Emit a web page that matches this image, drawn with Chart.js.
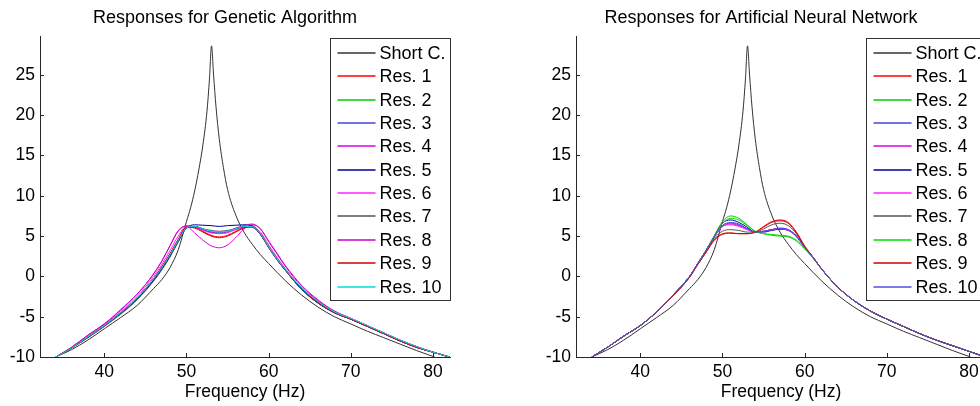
<!DOCTYPE html>
<html>
<head>
<meta charset="utf-8">
<script src="https://cdn.jsdelivr.net/npm/chart.js@4.4.1/dist/chart.umd.min.js"></script>
<style>
    html, body { margin: 0; padding: 0; background: #fff; overflow: hidden; }
    #wrap { position: relative; width: 980px; height: 406px; overflow: hidden; background: #fff; }
    #gaChart { position: absolute; left: 0; top: 0; }
    #annChart { position: absolute; left: 536px; top: 0; }
</style>
</head>
<body>
<div id="wrap">
    <canvas id="gaChart" width="490" height="406"></canvas>
    <canvas id="annChart" width="490" height="406"></canvas>
</div>
<script>
// frequency grids (Hz)
const resFreq = [34.1, 36, 38, 40, 42, 44, 46, 47, 48, 49, 50, 51, 52, 53, 54, 55, 56, 57, 58, 59, 60, 61, 62, 64, 66, 68, 70, 72, 74, 76, 78, 80, 82];
const scFreq = [34.1, 36, 38, 40, 42, 44, 46, 47, 48, 49, 50, 50.5, 51, 51.5, 52, 52.5, 52.8, 53.05, 53.3, 53.6, 54, 54.5, 55, 56, 57, 58, 59, 60, 62, 64, 66, 68, 70, 72, 74, 76, 78, 80.2];

const xTicks = [40, 50, 60, 70, 80];
const yTicks = [-10, -5, 0, 5, 10, 15, 20, 25];

// short circuit response (same in both plots)
const shortCircuit = [-10, -9.1, -7.9, -6.5, -5.1, -3.6, -1.5, -0.4, 1.1, 3.3, 6.8, 8.5, 10.6, 13.2, 16.3, 20.5, 24.5, 28.6, 25.0, 21.0, 17.0, 13.5, 10.8, 7.6, 5.5, 4.0, 2.7, 1.6, -0.5, -2.3, -3.8, -5.0, -5.9, -6.8, -7.6, -8.4, -9.2, -10];

const resLabels = ['Res. 1', 'Res. 2', 'Res. 3', 'Res. 4', 'Res. 5', 'Res. 6', 'Res. 7', 'Res. 8', 'Res. 9', 'Res. 10'];

// genetic algorithm responses
const ga1 = [-10, -8.9, -7.5, -6.1, -4.5, -2.7, -0.3, 1.2, 2.8, 4.6, 6.1, 6.1, 5.6, 5.1, 4.9, 5.1, 5.6, 6.1, 6.2, 5.3, 3.7, 2.2, 0.9, -1.5, -3.2, -4.5, -5.3, -6.2, -7.1, -8.0, -8.8, -9.4, -10.0];
const ga2 = [-10, -8.9, -7.5, -6.1, -4.5, -2.7, -0.3, 1.1, 2.7, 4.5, 6.0, 6.2, 5.9, 5.6, 5.5, 5.6, 5.9, 6.2, 6.2, 5.3, 3.7, 2.2, 0.9, -1.5, -3.2, -4.5, -5.3, -6.2, -7.1, -8.0, -8.8, -9.4, -10.0];
const ga3 = [-10, -8.9, -7.5, -6.1, -4.6, -2.8, -0.4, 1.0, 2.6, 4.4, 6.0, 6.2, 5.9, 5.5, 5.4, 5.5, 5.9, 6.2, 6.1, 5.2, 3.6, 2.1, 0.8, -1.6, -3.3, -4.5, -5.3, -6.2, -7.1, -8.0, -8.8, -9.4, -10.0];
const ga4 = [-10, -8.8, -7.3, -5.9, -4.1, -2.2, 0.3, 1.9, 3.8, 5.7, 6.2, 5.4, 4.5, 3.8, 3.55, 3.9, 4.8, 5.9, 6.4, 5.9, 4.3, 2.8, 1.3, -1.2, -3.0, -4.3, -5.2, -6.1, -7.0, -7.9, -8.7, -9.4, -10.0];
const ga5 = [-10, -8.9, -7.6, -6.2, -4.6, -2.8, -0.5, 0.9, 2.5, 4.3, 6.0, 6.4, 6.35, 6.3, 6.2, 6.3, 6.35, 6.4, 6.3, 5.2, 3.6, 2.1, 0.8, -1.6, -3.3, -4.5, -5.3, -6.2, -7.1, -8.0, -8.8, -9.4, -10.0];
const ga6 = [-10, -8.9, -7.5, -6.0, -4.4, -2.5, 0.0, 1.5, 3.2, 5.0, 6.2, 6.1, 5.7, 5.4, 5.3, 5.4, 5.8, 6.1, 6.2, 5.5, 3.9, 2.4, 1.0, -1.4, -3.1, -4.4, -5.3, -6.2, -7.1, -8.0, -8.8, -9.4, -10.0];
const ga7 = [-10, -8.9, -7.6, -6.2, -4.7, -2.9, -0.6, 0.8, 2.4, 4.3, 6.0, 6.2, 5.9, 5.7, 5.6, 5.7, 5.9, 6.1, 6.1, 5.2, 3.6, 2.1, 0.8, -1.6, -3.3, -4.5, -5.3, -6.2, -7.1, -8.0, -8.8, -9.4, -10.0];
const ga8 = [-10, -8.8, -7.3, -5.9, -4.2, -2.2, 0.3, 1.9, 3.8, 5.6, 6.3, 6.1, 5.8, 5.5, 5.4, 5.6, 6.0, 6.3, 6.5, 5.9, 4.4, 2.9, 1.4, -1.1, -2.9, -4.3, -5.2, -6.1, -7.0, -7.9, -8.7, -9.4, -10.0];
const ga9 = [-10, -8.9, -7.5, -6.1, -4.5, -2.7, -0.3, 1.2, 2.8, 4.6, 6.1, 6.0, 5.5, 5.0, 4.8, 5.0, 5.5, 6.0, 6.2, 5.3, 3.7, 2.2, 0.9, -1.5, -3.2, -4.5, -5.3, -6.2, -7.1, -8.0, -8.8, -9.4, -10.0];
const ga10 = [-10, -8.9, -7.5, -6.1, -4.5, -2.7, -0.3, 1.1, 2.7, 4.5, 6.0, 6.2, 5.9, 5.6, 5.5, 5.6, 5.9, 6.2, 6.2, 5.3, 3.7, 2.2, 0.9, -1.4, -3.1, -4.4, -5.2, -6.1, -7.0, -7.9, -8.7, -9.4, -10.0];

// neural network responses
const ann1 = [-10, -8.8, -7.4, -6.1, -4.4, -2.4, -0.1, 1.5, 3.0, 4.5, 5.2, 5.35, 5.3, 5.3, 5.5, 6.2, 6.8, 7.0, 6.7, 5.5, 3.8, 2.4, 1.0, -1.3, -3.0, -4.3, -5.3, -6.2, -7.1, -7.9, -8.6, -9.3, -10.0];
const ann2 = [-10, -8.8, -7.4, -6.1, -4.4, -2.3, 0.0, 1.6, 3.2, 5.0, 6.8, 7.5, 7.2, 6.4, 5.6, 5.3, 5.1, 5.0, 4.9, 4.4, 3.4, 2.3, 1.0, -1.3, -3.0, -4.3, -5.3, -6.2, -7.1, -7.9, -8.6, -9.3, -10.0];
const ann3 = [-10, -8.8, -7.4, -6.1, -4.4, -2.3, 0.0, 1.6, 3.2, 4.9, 6.3, 6.6, 6.4, 5.9, 5.5, 5.6, 5.8, 5.9, 5.8, 5.0, 3.6, 2.4, 1.0, -1.3, -3.0, -4.3, -5.3, -6.2, -7.1, -7.9, -8.6, -9.3, -10.0];
const ann4 = [-10, -8.8, -7.4, -6.1, -4.4, -2.3, 0.0, 1.6, 3.2, 4.9, 6.2, 6.5, 6.3, 5.9, 5.5, 5.6, 5.8, 6.0, 5.8, 5.0, 3.6, 2.4, 1.0, -1.3, -3.0, -4.3, -5.3, -6.2, -7.1, -7.9, -8.6, -9.3, -10.0];
const ann5 = [-10, -8.8, -7.4, -6.1, -4.4, -2.3, 0.0, 1.6, 3.2, 5.0, 6.6, 7.0, 6.7, 6.1, 5.5, 5.5, 5.7, 5.85, 5.7, 5.0, 3.6, 2.4, 1.0, -1.3, -3.0, -4.3, -5.3, -6.2, -7.1, -7.9, -8.6, -9.3, -10.0];
const ann6 = [-10, -8.8, -7.4, -6.1, -4.4, -2.3, 0.0, 1.6, 3.2, 4.9, 6.2, 6.4, 6.2, 5.8, 5.5, 5.6, 5.8, 5.9, 5.7, 4.9, 3.6, 2.4, 1.0, -1.3, -3.0, -4.3, -5.3, -6.2, -7.1, -7.9, -8.6, -9.3, -10.0];
const ann7 = [-10, -8.8, -7.4, -6.1, -4.4, -2.4, -0.1, 1.5, 3.0, 4.7, 5.6, 5.8, 5.7, 5.5, 5.5, 5.9, 6.4, 6.6, 6.3, 5.3, 3.7, 2.4, 1.0, -1.3, -3.0, -4.3, -5.3, -6.2, -7.1, -7.9, -8.6, -9.3, -10.0];
const ann8 = [-10, -8.8, -7.4, -6.1, -4.4, -2.3, 0.0, 1.6, 3.2, 5.0, 6.6, 7.2, 7.0, 6.3, 5.6, 5.3, 5.2, 5.1, 5.0, 4.5, 3.5, 2.3, 1.0, -1.3, -3.0, -4.3, -5.3, -6.2, -7.1, -7.9, -8.6, -9.3, -10.0];
const ann9 = [-10, -8.8, -7.4, -6.1, -4.4, -2.4, -0.1, 1.5, 3.0, 4.5, 5.3, 5.4, 5.3, 5.3, 5.5, 6.1, 6.7, 6.9, 6.6, 5.4, 3.7, 2.4, 1.0, -1.3, -3.0, -4.3, -5.3, -6.2, -7.1, -7.9, -8.6, -9.3, -10.0];
const ann10 = [-10, -8.8, -7.4, -6.1, -4.4, -2.3, 0.0, 1.6, 3.2, 4.9, 6.3, 6.7, 6.5, 5.9, 5.5, 5.6, 5.8, 5.95, 5.8, 5.0, 3.6, 2.4, 1.0, -1.3, -3.0, -4.3, -5.3, -6.2, -7.1, -7.9, -8.6, -9.3, -10.0];

const scColor = '#333333';
const gaColors = ['#ff0000', '#00cc00', '#4444dd', '#dd00dd', '#000099', '#ff22ff', '#555555', '#cc00cc', '#cc0000', '#00dddd'];
const annColors = ['#ff0000', '#00cc00', '#4444dd', '#dd00dd', '#000099', '#ff22ff', '#555555', '#00dd00', '#cc0000', '#5050e0'];

const fontFamily = "'Liberation Sans', Arial, Helvetica, sans-serif";
Chart.defaults.font.family = fontFamily;
Chart.defaults.color = '#000';

function toPoints(xs, ys) {
    return xs.map((x, i) => ({ x: x, y: ys[i] }));
}

// inward tick marks and the boxed legend, matlab style
const matlabDecor = {
    id: 'matlabDecor',
    afterDraw(chart) {
        const { ctx, chartArea, scales } = chart;
        ctx.save();
        ctx.strokeStyle = '#262626';
        ctx.lineWidth = 1;
        ctx.beginPath();
        scales.x.ticks.forEach(t => {
            const x = Math.round(scales.x.getPixelForValue(t.value)) + 0.5;
            ctx.moveTo(x, chartArea.bottom);
            ctx.lineTo(x, chartArea.bottom - 4);
        });
        scales.y.ticks.forEach(t => {
            const y = Math.round(scales.y.getPixelForValue(t.value)) + 0.5;
            ctx.moveTo(chartArea.left, y);
            ctx.lineTo(chartArea.left + 4, y);
        });
        ctx.stroke();

        const w = 120, h = 262;
        const left = Math.round(chartArea.right - w) + 0.5;
        const top = Math.round(chartArea.top + 1) + 0.5;
        ctx.fillStyle = '#fff';
        ctx.fillRect(left, top, w, h);
        ctx.strokeStyle = '#333';
        ctx.strokeRect(left, top, w, h);
        ctx.font = '18px ' + fontFamily;
        ctx.textBaseline = 'middle';
        ctx.textAlign = 'left';
        chart.data.datasets.forEach((ds, i) => {
            const y = Math.round(top + 14.5 + i * 23.35);
            ctx.strokeStyle = ds.borderColor;
            ctx.lineWidth = 1.3;
            ctx.beginPath();
            ctx.moveTo(left + 7, y);
            ctx.lineTo(left + 45, y);
            ctx.stroke();
            ctx.fillStyle = '#000';
            ctx.fillText(ds.label, left + 49, y + 1);
        });
        ctx.restore();
    }
};

function makeChart(canvasId, title, responses, colors) {
    const datasets = [{
        label: 'Short C.',
        data: toPoints(scFreq, shortCircuit),
        borderColor: scColor,
        order: 11
    }];
    responses.forEach((r, i) => {
        datasets.push({
            label: resLabels[i],
            data: toPoints(resFreq, r),
            borderColor: colors[i],
            order: 10 - i
        });
    });

    const ctx = document.getElementById(canvasId).getContext('2d');
    return new Chart(ctx, {
        type: 'line',
        data: { datasets: datasets },
        options: {
            responsive: false,
            animation: false,
            devicePixelRatio: 1,
            layout: { padding: { left: 0, right: 40, top: 0, bottom: 0 } },
            elements: {
                line: { borderWidth: 1, fill: false, cubicInterpolationMode: 'monotone' },
                point: { radius: 0, hoverRadius: 0 }
            },
            plugins: {
                legend: { display: false },
                tooltip: { enabled: false },
                title: {
                    display: true,
                    text: title,
                    color: '#000',
                    font: { size: 18, weight: 'normal' },
                    padding: { top: 7, bottom: 8 }
                }
            },
            scales: {
                x: {
                    type: 'linear',
                    min: 32.18,
                    max: 82.07,
                    afterBuildTicks: s => { s.ticks = xTicks.map(v => ({ value: v })); },
                    afterFit: s => { s.height = 49; },
                    grid: { display: false, drawTicks: false },
                    border: { display: true, color: '#262626', width: 1 },
                    ticks: { font: { size: 17.5 }, color: '#000', padding: 5, maxRotation: 0, autoSkip: false, callback: v => String(v) },
                    title: { display: true, text: 'Frequency (Hz)', color: '#000', font: { size: 17.5 }, padding: { top: 0, bottom: 3 } }
                },
                y: {
                    type: 'linear',
                    min: -10,
                    max: 29.75,
                    afterBuildTicks: s => { s.ticks = yTicks.map(v => ({ value: v })); },
                    afterFit: s => { s.width = 40; },
                    grid: { display: false, drawTicks: false },
                    border: { display: true, color: '#262626', width: 1 },
                    ticks: { font: { size: 17.5 }, color: '#000', padding: 5, autoSkip: false, callback: v => String(v) }
                }
            }
        },
        plugins: [matlabDecor]
    });
}

makeChart('gaChart', 'Responses for Genetic Algorithm', [ga1, ga2, ga3, ga4, ga5, ga6, ga7, ga8, ga9, ga10], gaColors);
makeChart('annChart', 'Responses for Artificial Neural Network', [ann1, ann2, ann3, ann4, ann5, ann6, ann7, ann8, ann9, ann10], annColors);
</script>
</body>
</html>
